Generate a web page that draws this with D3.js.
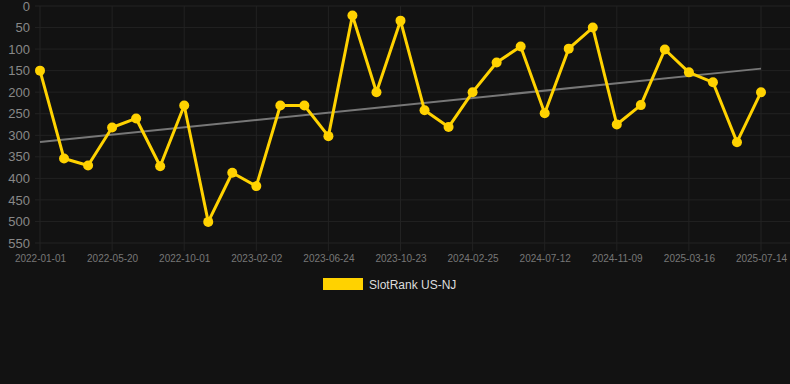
<!DOCTYPE html>
<html>
<head>
<meta charset="utf-8">
<script src="https://cdn.jsdelivr.net/npm/d3@7"></script>
<style>
  html, body { margin: 0; padding: 0; background: #121212; }
  svg { display: block; font-family: "Liberation Sans", Arial, sans-serif; }
</style>
</head>
<body>
<div id="chart"></div>
<script>
// categories (only every third one is labelled on the axis)
var dates = [
  "2022-01-01", "2022-02-16", "2022-04-03", "2022-05-20", "2022-07-03", "2022-08-17",
  "2022-10-01", "2022-11-11", "2022-12-22", "2023-02-02", "2023-03-17", "2023-05-01",
  "2023-06-24", "2023-08-03", "2023-09-12", "2023-10-23", "2023-12-03", "2024-01-14",
  "2024-02-25", "2024-04-10", "2024-05-26", "2024-07-12", "2024-08-20", "2024-09-30",
  "2024-11-09", "2024-12-21", "2025-02-01", "2025-03-16", "2025-04-25", "2025-06-04",
  "2025-07-14"
];
var rank = [
  150, 354, 370, 282, 261, 372, 231, 501, 387, 418, 231, 231, 302, 22, 200, 34,
  242, 281, 200, 131, 94, 249, 99, 50, 275, 230, 101, 154, 177, 316, 200
];
var yTicks = [0, 50, 100, 150, 200, 250, 300, 350, 400, 450, 500, 550];
var seriesName = "SlotRank US-NJ";

var width = 790, height = 384;
var svg = d3.select("#chart").append("svg")
  .attr("width", width)
  .attr("height", height);

svg.append("rect").attr("width", width).attr("height", height).attr("fill", "#121212");

var x = d3.scalePoint()
  .domain(dates)
  .range([40, 761]);

var y = d3.scaleLinear()
  .domain([0, 550])
  .range([6, 243]);

// horizontal grid
svg.append("g")
  .selectAll("line")
  .data(yTicks)
  .join("line")
  .attr("x1", 35).attr("x2", width)
  .attr("y1", d => y(d)).attr("y2", d => y(d))
  .attr("stroke", "#222")
  .attr("stroke-width", 1);

// vertical grid at labelled categories
var shown = dates.filter((d, i) => i % 3 == 0);
svg.append("g")
  .selectAll("line")
  .data(shown)
  .join("line")
  .attr("x1", d => x(d)).attr("x2", d => x(d))
  .attr("y1", y(0)).attr("y2", 251)
  .attr("stroke", "#222")
  .attr("stroke-width", 1);

// y axis
var yAxis = svg.append("g")
  .attr("transform", "translate(30,0)")
  .call(d3.axisLeft(y).tickValues(yTicks).tickSize(0).tickPadding(0));
yAxis.select(".domain").remove();
yAxis.selectAll("text")
  .attr("fill", "#888")
  .style("font-size", "13px");

// x axis
var xAxis = svg.append("g")
  .attr("transform", "translate(0,251)")
  .call(d3.axisBottom(x).tickValues(shown).tickSize(0).tickPadding(4));
xAxis.select(".domain").remove();
xAxis.selectAll("text")
  .attr("fill", "#777")
  .style("font-size", "10px");

// trend line (least squares over the series)
var n = rank.length;
var mx = d3.mean(d3.range(n)), my = d3.mean(rank);
var slope = d3.sum(d3.range(n), i => (i - mx) * (rank[i] - my)) / d3.sum(d3.range(n), i => (i - mx) * (i - mx));
var icpt = my - slope * mx;
svg.append("line")
  .attr("x1", x(dates[0])).attr("y1", y(icpt))
  .attr("x2", x(dates[n - 1])).attr("y2", y(icpt + slope * (n - 1)))
  .attr("stroke", "#777")
  .attr("stroke-width", 2);

// series
var line = d3.line()
  .x((d, i) => x(dates[i]))
  .y(d => y(d));

svg.append("path")
  .datum(rank)
  .attr("fill", "none")
  .attr("stroke", "#ffd200")
  .attr("stroke-width", 3)
  .attr("stroke-linejoin", "round")
  .attr("d", line);

svg.append("g")
  .selectAll("circle")
  .data(rank)
  .join("circle")
  .attr("cx", (d, i) => x(dates[i]))
  .attr("cy", d => y(d))
  .attr("r", 5)
  .attr("fill", "#ffd200");

// legend
var legend = svg.append("g").attr("transform", "translate(323,278)");
legend.append("rect")
  .attr("width", 40).attr("height", 12)
  .attr("fill", "#ffd200");
legend.append("text")
  .attr("x", 46).attr("y", 11)
  .attr("fill", "#ddd")
  .style("font-size", "12px")
  .text(seriesName);
</script>
</body>
</html>
